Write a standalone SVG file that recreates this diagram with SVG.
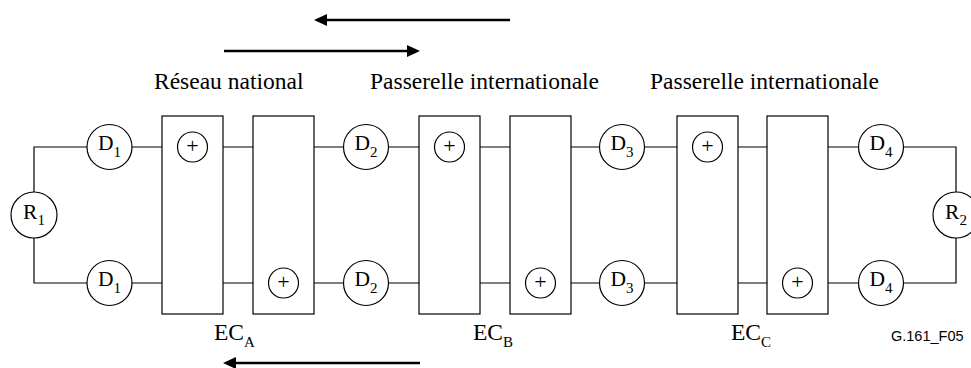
<svg xmlns="http://www.w3.org/2000/svg" width="971" height="368" viewBox="0 0 971 368">
<defs>
<style>
.ln{stroke:#000;stroke-width:1.2;fill:none}
.bx{fill:#fff;stroke:#000;stroke-width:1.2}
.cr{fill:#fff;stroke:#000;stroke-width:1.2}
.t{font-family:"Liberation Serif","Times New Roman",serif;fill:#000}
.lbl{font-size:23.5px}
.dn{font-size:21.5px;text-anchor:middle}
.sub{font-size:15px}
.pl{font-size:22px;text-anchor:middle}
.ar{stroke:#000;stroke-width:2.3;fill:none}
</style>
<marker id="ah" viewBox="0 0 13 12" refX="3" refY="6" markerWidth="13" markerHeight="12" markerUnits="userSpaceOnUse" orient="auto">
<path d="M0,0 L13,6 L0,12 z" fill="#000"/>
</marker>
</defs>
<rect width="971" height="368" fill="#fff"/>
<g id="connectors">
<path class="ln" d="M87,147 H34 V192 M34,238 V283 H87"/>
<path class="ln" d="M132,147 H162 M223,147 H253 M314,147 H343.5 M388.5,147 H419 M480,147 H510 M571,147 H599.5 M644.5,147 H677 M737,147 H767 M828,147 H858.5"/>
<path class="ln" d="M132,283 H162 M223,283 H253 M314,283 H343.5 M388.5,283 H419 M480,283 H510 M571,283 H599.5 M644.5,283 H677 M737,283 H767 M828,283 H858.5"/>
<path class="ln" d="M903.5,147 H956 V192 M956,238 V283 H903.5"/>
<line class="ar" x1="510" y1="20" x2="324" y2="20" marker-end="url(#ah)"/>
<line class="ar" x1="224" y1="51" x2="410" y2="51" marker-end="url(#ah)"/>
<line class="ar" x1="420" y1="363" x2="233" y2="363" marker-end="url(#ah)"/>
</g>
<g id="R1"><circle class="cr" cx="34" cy="215" r="23"/><text class="t dn" x="34" y="219">R<tspan class="sub" dy="6">1</tspan></text></g>
<g id="R2"><circle class="cr" cx="956" cy="215" r="23"/><text class="t dn" x="956" y="219">R<tspan class="sub" dy="6">2</tspan></text></g>
<g id="D1a"><circle class="cr" cx="109.5" cy="147" r="22.5"/><text class="t dn" x="109.5" y="149.5">D<tspan class="sub" dy="7">1</tspan></text></g>
<g id="D1b"><circle class="cr" cx="109.5" cy="283" r="22.5"/><text class="t dn" x="109.5" y="285.5">D<tspan class="sub" dy="7">1</tspan></text></g>
<g id="D2a"><circle class="cr" cx="366" cy="147" r="22.5"/><text class="t dn" x="366" y="149.5">D<tspan class="sub" dy="7">2</tspan></text></g>
<g id="D2b"><circle class="cr" cx="366" cy="283" r="22.5"/><text class="t dn" x="366" y="285.5">D<tspan class="sub" dy="7">2</tspan></text></g>
<g id="D3a"><circle class="cr" cx="622" cy="147" r="22.5"/><text class="t dn" x="622" y="149.5">D<tspan class="sub" dy="7">3</tspan></text></g>
<g id="D3b"><circle class="cr" cx="622" cy="283" r="22.5"/><text class="t dn" x="622" y="285.5">D<tspan class="sub" dy="7">3</tspan></text></g>
<g id="D4a"><circle class="cr" cx="881" cy="147" r="22.5"/><text class="t dn" x="881" y="149.5">D<tspan class="sub" dy="7">4</tspan></text></g>
<g id="D4b"><circle class="cr" cx="881" cy="283" r="22.5"/><text class="t dn" x="881" y="285.5">D<tspan class="sub" dy="7">4</tspan></text></g>
<g id="ECA">
<rect class="bx" x="162" y="116" width="61" height="198"/>
<circle class="cr" cx="192.5" cy="147" r="15"/><text class="t pl" x="192.5" y="152.5">+</text>
<rect class="bx" x="253" y="116" width="61" height="198"/>
<circle class="cr" cx="283.5" cy="283" r="15"/><text class="t pl" x="283.5" y="288.5">+</text>
<text class="t lbl" x="214" y="340">EC<tspan class="sub" font-size="16" dy="7">A</tspan></text>
</g>
<g id="ECB">
<rect class="bx" x="419" y="116" width="61" height="198"/>
<circle class="cr" cx="449.5" cy="147" r="15"/><text class="t pl" x="449.5" y="152.5">+</text>
<rect class="bx" x="510" y="116" width="61" height="198"/>
<circle class="cr" cx="540.5" cy="283" r="15"/><text class="t pl" x="540.5" y="288.5">+</text>
<text class="t lbl" x="473" y="340">EC<tspan class="sub" font-size="16" dy="7">B</tspan></text>
</g>
<g id="ECC">
<rect class="bx" x="677" y="116" width="61" height="198"/>
<circle class="cr" cx="707.5" cy="147" r="15"/><text class="t pl" x="707.5" y="152.5">+</text>
<rect class="bx" x="767" y="116" width="61" height="198"/>
<circle class="cr" cx="797.5" cy="283" r="15"/><text class="t pl" x="797.5" y="288.5">+</text>
<text class="t lbl" x="731" y="340">EC<tspan class="sub" font-size="16" dy="7">C</tspan></text>
</g>
<g id="labels">
<text class="t lbl" x="154" y="89">Réseau national</text>
<text class="t lbl" x="370" y="89">Passerelle internationale</text>
<text class="t lbl" x="650" y="89">Passerelle internationale</text>
<text x="891" y="341" font-family="'Liberation Sans',Arial,sans-serif" font-size="14.5" fill="#000">G.161_F05</text>
</g>
</svg>
